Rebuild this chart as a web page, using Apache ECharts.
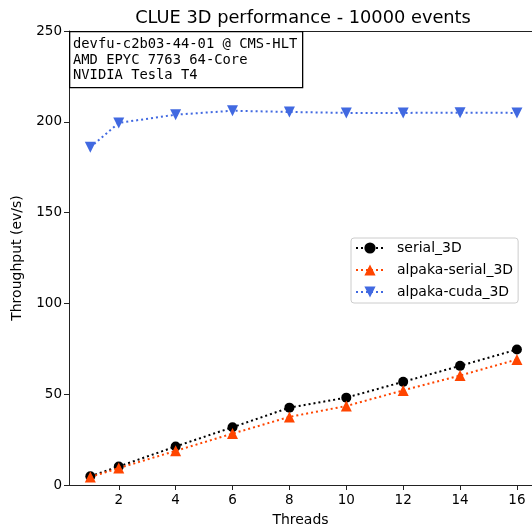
<!DOCTYPE html>
<html lang="en">
<head>
    <meta charset="UTF-8">
    <title>CLUE 3D performance</title>
    <style>
        body { margin: 0; background: #fff; }
    </style>
</head>
<body>
    <div id="main" style="width: 532px;height: 532px;"></div>
    <script src="https://cdn.jsdelivr.net/npm/echarts@6/dist/echarts.min.js"></script>
    <script>
        var threads = [1, 2, 4, 6, 8, 10, 12, 14, 16];
        var serial = [4.8, 10.2, 21.2, 31.8, 42.6, 48.1, 56.8, 65.6, 74.6];
        var alpakaSerial = [4.4, 9.3, 18.8, 28.3, 37.5, 43.5, 52.1, 60.3, 69.1];
        var alpakaCuda = [186.0, 199.4, 203.9, 206.1, 205.4, 204.9, 204.9, 205.0, 204.9];
        var xTicks = [2, 4, 6, 8, 10, 12, 14, 16];
        var infoLines = ['devfu-c2b03-44-01 @ CMS-HLT', 'AMD EPYC 7763 64-Core', 'NVIDIA Tesla T4'];

        function pairs(vals) {
            return threads.map(function (t, i) { return [t, vals[i]]; });
        }

        var font = 'DejaVu Sans';
        var chart = echarts.init(document.getElementById('main'));
        chart.setOption({
            animation: false,
            title: {
                text: 'CLUE 3D performance - 10000 events',
                left: 298,
                top: 4,
                textAlign: 'center',
                textStyle: { fontFamily: font, fontSize: 17.8, fontWeight: 'normal', color: '#000' }
            },
            legend: {
                orient: 'vertical',
                left: 351,
                top: 238,
                padding: [3, 5, 4, 4],
                itemGap: 8,
                itemWidth: 28,
                itemHeight: 14,
                borderColor: '#ccc',
                borderWidth: 1,
                borderRadius: 3,
                backgroundColor: 'rgba(255,255,255,0.8)',
                textStyle: { fontFamily: font, fontSize: 14, color: '#000', padding: [0, 0, 0, 8] },
                data: ['serial_3D', 'alpaka-serial_3D', 'alpaka-cuda_3D']
            },
            grid: { left: 69, right: 0, top: 31, bottom: 44 },
            xAxis: [{
                type: 'value',
                min: 0.25,
                max: 16.53,
                name: 'Threads',
                nameLocation: 'middle',
                nameGap: 28,
                nameTextStyle: { fontFamily: font, fontSize: 14, color: '#000' },
                splitLine: { show: false },
                axisLine: { lineStyle: { color: '#222', width: 1 } },
                axisTick: { show: true, length: 5, customValues: xTicks, lineStyle: { color: '#222' } },
                axisLabel: { customValues: xTicks, fontFamily: font, fontSize: 13.5, color: '#000', margin: 8 }
            }, {
                type: 'value',
                position: 'top',
                min: 0.25,
                max: 16.53,
                splitLine: { show: false },
                axisLine: { show: true, onZero: false, lineStyle: { color: '#222', width: 1 } },
                axisTick: { show: false },
                axisLabel: { show: false }
            }],
            yAxis: {
                type: 'value',
                min: 0,
                max: 250,
                interval: 50,
                name: 'Throughput (ev/s)',
                nameLocation: 'middle',
                nameGap: 45,
                nameTextStyle: { fontFamily: font, fontSize: 14, color: '#000' },
                splitLine: { show: false },
                axisLine: { show: true, lineStyle: { color: '#222', width: 1 } },
                axisTick: { show: true, length: 5, lineStyle: { color: '#222' } },
                axisLabel: { fontFamily: font, fontSize: 13.5, color: '#000', margin: 7 }
            },
            series: [{
                name: 'serial_3D',
                type: 'line',
                data: pairs(serial),
                symbol: 'circle',
                symbolSize: 10,
                color: '#000',
                lineStyle: { type: [2, 3], width: 2, color: '#000' },
                z: 3
            }, {
                name: 'alpaka-serial_3D',
                type: 'line',
                data: pairs(alpakaSerial),
                symbol: 'triangle',
                symbolSize: 11,
                color: '#ff4500',
                lineStyle: { type: [2, 3], width: 2, color: '#ff4500' },
                z: 4
            }, {
                name: 'alpaka-cuda_3D',
                type: 'line',
                data: pairs(alpakaCuda),
                symbol: 'triangle',
                symbolRotate: 180,
                symbolSize: 11,
                color: '#4169e1',
                lineStyle: { type: [2, 3], width: 2, color: '#4169e1' },
                z: 5
            }],
            graphic: [{
                type: 'rect',
                left: 69,
                top: 31,
                shape: { width: 233, height: 56 },
                style: { fill: '#fff', stroke: '#000', lineWidth: 1.3 },
                z: 10
            }, {
                type: 'text',
                left: 73,
                top: 37,
                style: {
                    text: infoLines.join('\n'),
                    font: '13.8px "DejaVu Sans Mono"',
                    lineHeight: 15.3,
                    fill: '#000'
                },
                z: 11
            }]
        });
    </script>
</body>
</html>
